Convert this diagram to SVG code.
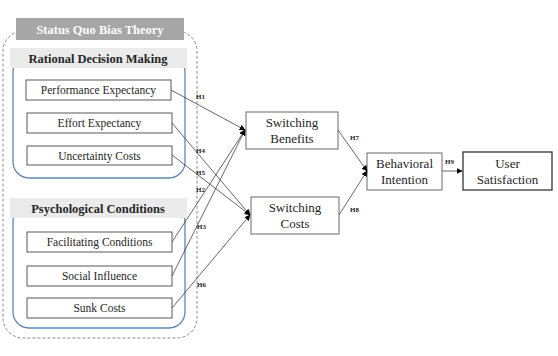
<svg xmlns="http://www.w3.org/2000/svg" width="558" height="356" viewBox="0 0 558 356">
<style>
.t{font-family:"Liberation Serif","Times New Roman",serif;fill:#262626;text-anchor:middle}
.box{fill:#fff;stroke:#595959;stroke-width:1}
.nb{fill:#fff;stroke:#6b6b6b;stroke-width:1}
.grp{fill:none;stroke:#5f86b0;stroke-width:1.3}
.hdr{fill:#ebebeb}
.h{font-family:"Liberation Serif","Times New Roman",serif;font-size:7px;font-weight:bold;fill:#262626}
.c{fill:none;stroke:#404040;stroke-width:0.8;marker-end:url(#ar)}
</style>
<defs>
<marker id="ar" viewBox="0 0 10 10" refX="9" refY="5" markerWidth="6" markerHeight="6" markerUnits="userSpaceOnUse" orient="auto">
<path d="M0,0 L10,5 L0,10 z" fill="#000"/>
</marker>
</defs>
<rect width="558" height="356" fill="#fff"/>
<g id="theory">
<rect x="3" y="31" width="194" height="307" rx="20" fill="none" stroke="#8c8c8c" stroke-width="1" stroke-dasharray="3,2"/>
<rect x="16" y="18" width="168" height="22" fill="#a6a6a6"/>
<text class="t" x="100" y="34" font-size="12.5" font-weight="bold" style="fill:#fff">Status Quo Bias Theory</text>
</g>
<g id="rational">
<rect class="grp" x="13" y="56" width="172" height="122" rx="16"/>
<rect class="hdr" x="10" y="48" width="177" height="20"/>
<text class="t" x="98" y="63" font-size="12.5" font-weight="bold">Rational Decision Making</text>
</g>
<g id="psychological">
<rect class="grp" x="13" y="206" width="172" height="122" rx="16"/>
<rect class="hdr" x="10" y="198" width="177" height="20"/>
<text class="t" x="98" y="213" font-size="12.5" font-weight="bold">Psychological Conditions</text>
</g>
<g id="pe"><rect class="box" x="26" y="80" width="145" height="20"/><text class="t" x="98.5" y="94" font-size="11.5">Performance Expectancy</text></g>
<g id="ee"><rect class="box" x="27" y="113" width="145" height="20"/><text class="t" x="99.5" y="127" font-size="11.5">Effort Expectancy</text></g>
<g id="uc"><rect class="box" x="27" y="146" width="145" height="19"/><text class="t" x="99.5" y="159.5" font-size="11.5">Uncertainty Costs</text></g>
<g id="fc"><rect class="box" x="27" y="232" width="145" height="20"/><text class="t" x="99.5" y="246" font-size="11.5">Facilitating Conditions</text></g>
<g id="si"><rect class="box" x="27" y="266" width="145" height="20"/><text class="t" x="99.5" y="280" font-size="11.5">Social Influence</text></g>
<g id="sc"><rect class="box" x="27" y="298" width="145" height="20"/><text class="t" x="99.5" y="312" font-size="11.5">Sunk Costs</text></g>
<g id="sb"><rect class="nb" x="246" y="112" width="92" height="37"/><text class="t" x="292" y="127" font-size="13">Switching</text><text class="t" x="292" y="143" font-size="13">Benefits</text></g>
<g id="swc"><rect class="nb" x="251" y="197" width="88" height="37"/><text class="t" x="295" y="212" font-size="13">Switching</text><text class="t" x="295" y="228" font-size="13">Costs</text></g>
<g id="bi"><rect class="nb" x="367" y="153" width="75" height="37"/><text class="t" x="404.5" y="168" font-size="13">Behavioral</text><text class="t" x="404.5" y="184" font-size="13">Intention</text></g>
<g id="us"><rect x="463" y="152" width="89" height="38" fill="#fff" stroke="#333" stroke-width="1.3"/><text class="t" x="507.5" y="168" font-size="13">User</text><text class="t" x="507.5" y="184" font-size="13">Satisfaction</text></g>
<g id="connectors">
<path class="c" d="M171,90 L245,130"/>
<path class="c" d="M172,123 L250,215"/>
<path class="c" d="M172,155 L250,215"/>
<path class="c" d="M172,242 L245,130"/>
<path class="c" d="M172,276 L245,130"/>
<path class="c" d="M172,308 L250,215"/>
<path class="c" d="M338,130 L367,171"/>
<path class="c" d="M339,215 L367,171"/>
<path class="c" d="M442,171 L462,171"/>
<text class="h" x="196" y="99">H1</text>
<text class="h" x="196" y="153">H4</text>
<text class="h" x="196" y="175">H5</text>
<text class="h" x="196" y="192">H2</text>
<text class="h" x="197" y="229">H3</text>
<text class="h" x="197" y="287">H6</text>
<text class="h" x="350" y="140">H7</text>
<text class="h" x="350" y="212">H8</text>
<text class="h" x="445" y="164">H9</text>
</g>
</svg>
